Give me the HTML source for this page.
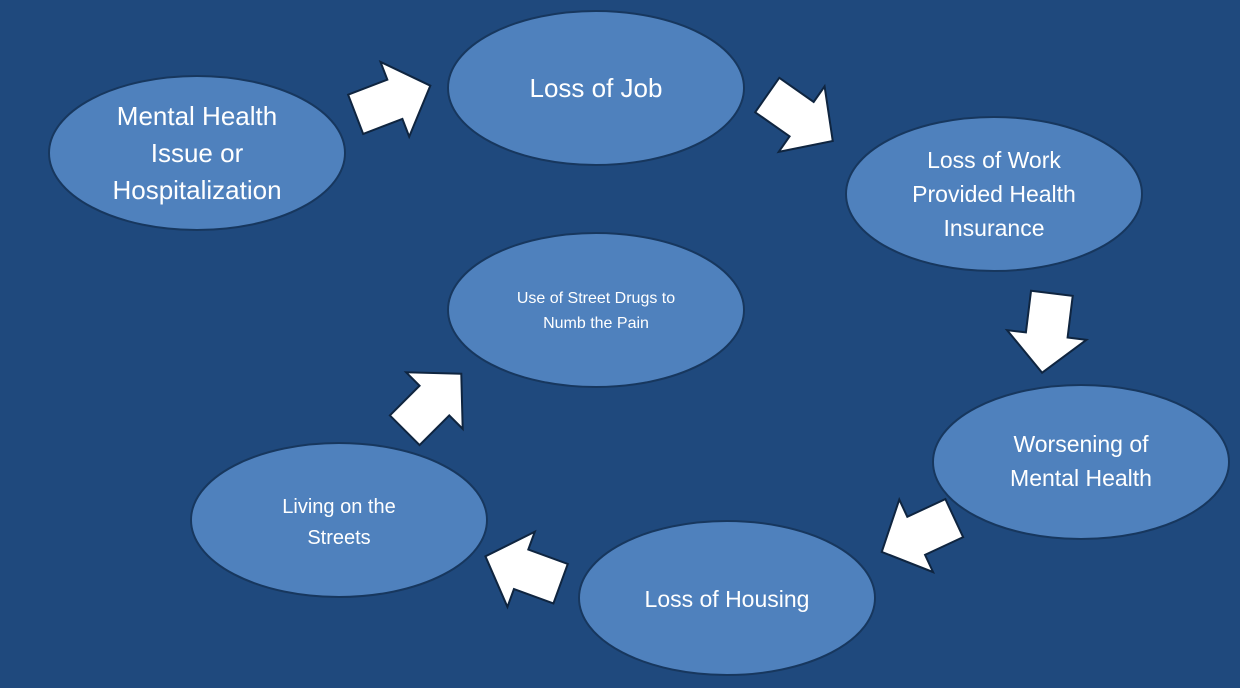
<!DOCTYPE html>
<html><head><style>body{margin:0;background:#1f497d}svg{display:block}text{font-family:"Liberation Sans",sans-serif;fill:#fff;text-anchor:middle}</style></head>
<body>
<svg width="1240" height="688" viewBox="0 0 1240 688">
<rect width="1240" height="688" fill="#1f497d"/>
<defs>
<polygon id="a" points="-40,-21 2,-21 2,-40 40,0 2,40 2,21 -40,21" fill="#fff" stroke="#0f2540" stroke-width="2" stroke-linejoin="miter"/>
</defs>
<g fill="#4f81bd" stroke="#17375e" stroke-width="2">
<ellipse cx="197" cy="153" rx="148" ry="77"/>
<ellipse cx="596" cy="88" rx="148" ry="77"/>
<ellipse cx="994" cy="194" rx="148" ry="77"/>
<ellipse cx="596" cy="310" rx="148" ry="77"/>
<ellipse cx="1081" cy="462" rx="148" ry="77"/>
<ellipse cx="727" cy="598" rx="148" ry="77"/>
<ellipse cx="339" cy="520" rx="148" ry="77"/>
</g>
<use href="#a" transform="translate(393,100) rotate(-21)"/>
<use href="#a" transform="translate(800,118) rotate(35)"/>
<use href="#a" transform="translate(1047,333) rotate(97)"/>
<use href="#a" transform="translate(918,535) rotate(155)"/>
<use href="#a" transform="translate(523,570) rotate(200)"/>
<use href="#a" transform="translate(433,402) rotate(-45)"/>
<g font-size="26">
<text x="197" y="125">Mental Health</text>
<text x="197" y="162">Issue or</text>
<text x="197" y="199">Hospitalization</text>
<text x="596" y="97">Loss of Job</text>
</g>
<g font-size="23">
<text x="994" y="168">Loss of Work</text>
<text x="994" y="202">Provided Health</text>
<text x="994" y="236">Insurance</text>
<text x="1081" y="452">Worsening of</text>
<text x="1081" y="486">Mental Health</text>
<text x="727" y="607">Loss of Housing</text>
</g>
<g font-size="20">
<text x="339" y="513">Living on the</text>
<text x="339" y="544">Streets</text>
</g>
<g font-size="16">
<text x="596" y="303">Use of Street Drugs to</text>
<text x="596" y="328">Numb the Pain</text>
</g>
</svg>
</body></html>
